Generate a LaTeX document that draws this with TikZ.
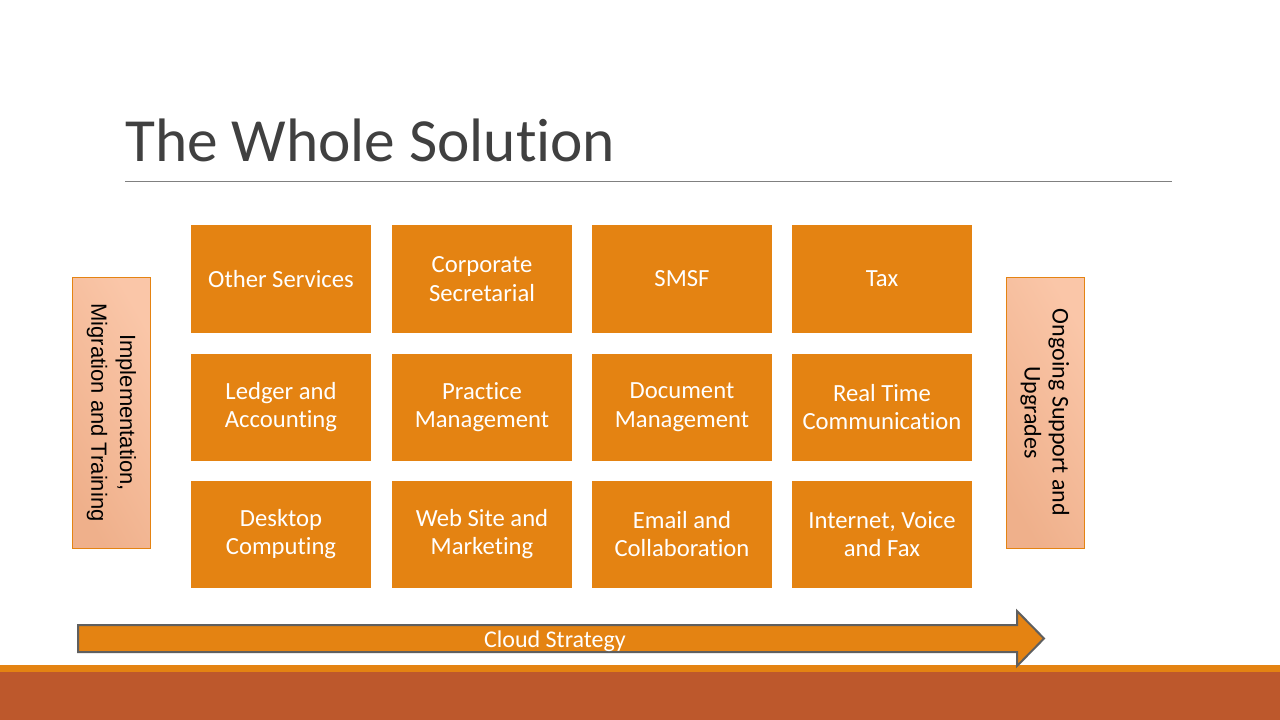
\documentclass[tikz,border=0pt]{standalone}
\usepackage{fontspec}
\setmainfont[Ligatures=NoCommon]{Carlito}
\newfontfamily\arialfont{Liberation Sans}
\definecolor{accentorange}{HTML}{E48312}
\definecolor{accentrust}{HTML}{BD582C}
\definecolor{titlegray}{HTML}{404040}
\definecolor{rulegray}{HTML}{808080}
\definecolor{arrowedge}{HTML}{5F5F5F}
\definecolor{peachlight}{HTML}{FAC6A8}
\definecolor{peachdark}{HTML}{EFB08B}
\tikzset{
  tile/.style={fill=accentorange, text=white, inner sep=0pt,
    minimum width=135pt, minimum height=80.25pt, align=center,
    font=\fontsize{18.5}{21.5}\selectfont},
  sidebox/.style={draw=accentorange, line width=0.75pt,
    top color=peachlight, bottom color=peachdark, shading angle=-60,
    inner sep=0pt, minimum width=203.25pt, minimum height=58.5pt,
    align=center, rotate=-90},
  bigarrow/.style={fill=accentorange, draw=arrowedge, line width=1.5pt,
    line join=miter},
}
\begin{document}
\begin{tikzpicture}[x=0.75pt, y=-0.75pt]
  % page frame
  \useasboundingbox (0,0) rectangle (1280,720);
  \fill[white] (0,0) rectangle (1280,720);

  % title and rule
  \node[anchor=base west, inner sep=0pt, text=titlegray,
        font=\fontsize{46}{52}\selectfont] (title) at (125,162) {The Whole Solution};
  \draw[rulegray, line width=0.75pt] (125,182) -- (1172,182);

  % service tiles
  \node[tile] (t11) at (281,279) {Other Services};
  \node[tile] (t12) at (482,279) {Corporate\\Secretarial};
  \node[tile] (t13) at (682,279) {SMSF};
  \node[tile] (t14) at (882,279) {Tax};
  \node[tile] (t21) at (281,407) {Ledger and\\Accounting};
  \node[tile] (t22) at (482,407) {Practice\\Management};
  \node[tile] (t23) at (682,407) {Document\\Management};
  \node[tile] (t24) at (882,407) {Real Time\\Communication};
  \node[tile] (t31) at (281,534) {Desktop\\Computing};
  \node[tile] (t32) at (482,534) {Web Site and\\Marketing};
  \node[tile] (t33) at (682,534) {Email and\\Collaboration};
  \node[tile] (t34) at (882,534) {Internet, Voice\\and Fax};

  % side panels
  \node[sidebox, font=\arialfont\fontsize{16.5}{21.5}\selectfont] (impl) at (111.5,412.5)
    {Implementation,\\Migration and Training};
  \node[sidebox, font=\fontsize{18}{21}\selectfont] (support) at (1045,412.5)
    {Ongoing Support and\\Upgrades};

  % footer bands
  \fill[accentorange] (0,665) rectangle (1280,672);
  \fill[accentrust] (0,672) rectangle (1280,720);

  % cloud strategy arrow
  \draw[bigarrow] (78,625) -- (1017,625) -- (1017,611) -- (1044,638.5)
    -- (1017,666) -- (1017,652) -- (78,652) -- cycle;
  \node[text=white, font=\fontsize{18}{21}\selectfont] (cloud) at (555,641) {Cloud Strategy};
\end{tikzpicture}
\end{document}
